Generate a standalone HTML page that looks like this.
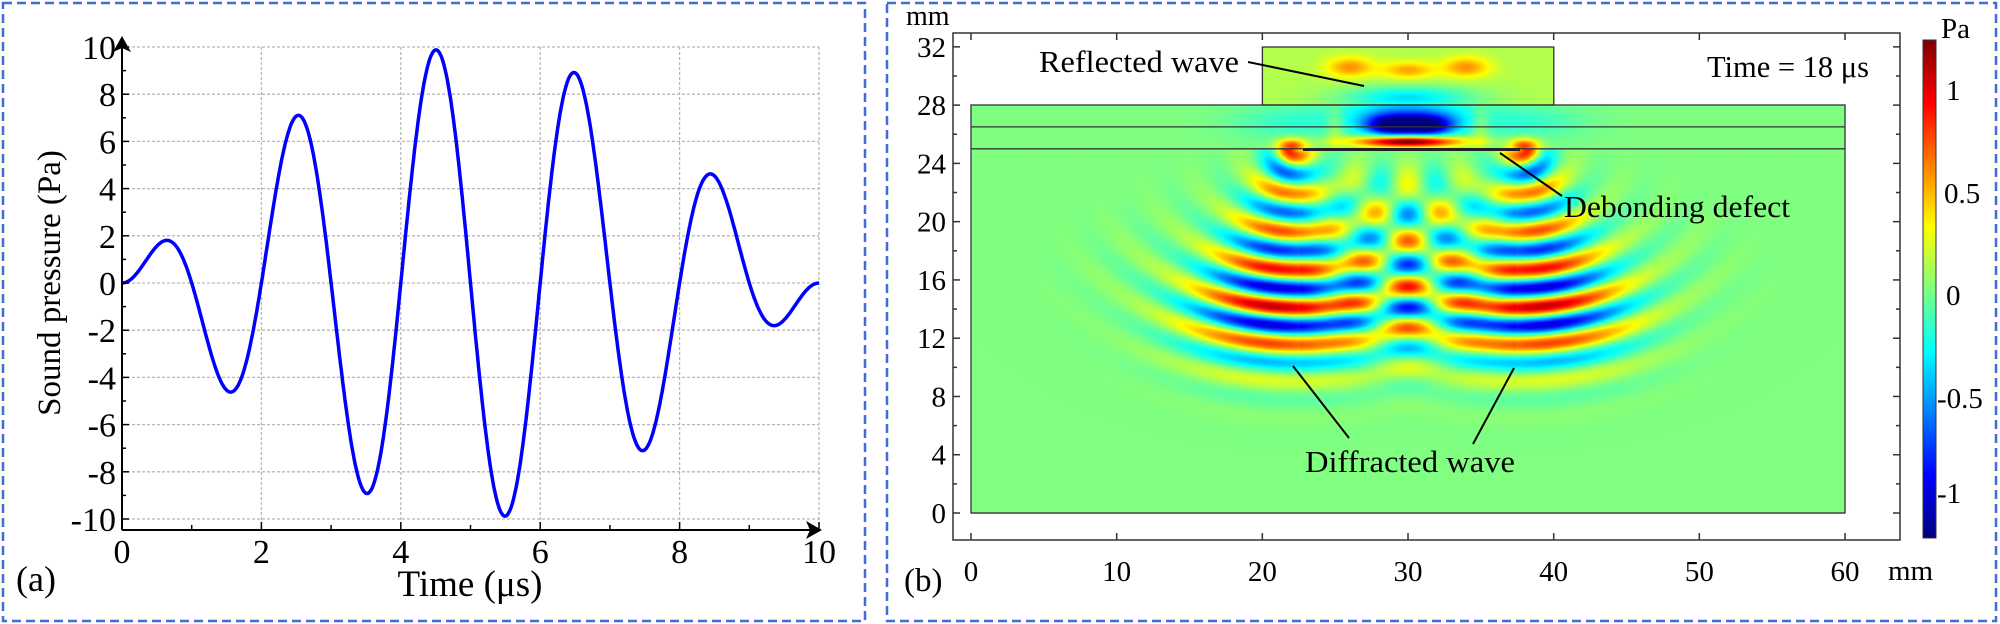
<!DOCTYPE html>
<html><head><meta charset="utf-8">
<style>
html,body{margin:0;padding:0;background:#fff;}
#wrap{position:relative;width:2000px;height:624px;overflow:hidden;background:#fff;}
svg{position:absolute;left:0;top:0;}
canvas{position:absolute;}
</style></head>
<body><div id="wrap">
<canvas id="fld" width="874" height="467" style="left:971px;top:47px;"></canvas>
<canvas id="cb" width="13" height="498" style="left:1923px;top:40px;"></canvas>
<svg id="s" width="2000" height="624" xmlns="http://www.w3.org/2000/svg" font-family="Liberation Serif, serif">
<rect x="3" y="3" width="862" height="618" fill="none" stroke="#3f6fd6" stroke-width="2.5" stroke-dasharray="9,5"/>
<rect x="887" y="3" width="1109" height="618" fill="none" stroke="#3f6fd6" stroke-width="2.5" stroke-dasharray="9,5"/>
<g id="grid" stroke="#b8b8b8" stroke-width="1.3" stroke-dasharray="3,2"></g>
<polyline id="wave" fill="none" stroke="#0000ff" stroke-width="3.5" stroke-linejoin="round"/>
<g stroke="#000" stroke-width="2">
<line x1="122" y1="530" x2="812" y2="530"/>
<line x1="122" y1="530" x2="122" y2="46"/>
</g>
<polygon points="822,530 806,521 810,530 806,539" fill="#000"/>
<polygon points="122,36 113,52 122,48 131,52" fill="#000"/>
<g id="lticks" stroke="#000" stroke-width="1.5"></g>
<g id="ltl" font-size="34" fill="#000"></g>
<text x="470" y="596" font-size="37" text-anchor="middle">Time (μs)</text>
<text x="16" y="591" font-size="36">(a)</text>
<text transform="translate(60,283) rotate(-90)" font-size="33" text-anchor="middle">Sound pressure (Pa)</text>

<rect x="953" y="33" width="947" height="507" fill="none" stroke="#333" stroke-width="1.5"/>
<g id="rticks" stroke="#333" stroke-width="1.5"></g>
<g id="rtl" font-size="29" fill="#000"></g>
<g fill="none" stroke="#333" stroke-width="1.3">
<rect x="971" y="105" width="874" height="408"/>
<rect x="1262.4" y="47" width="291.4" height="58"/>
<line x1="971" y1="126.9" x2="1845" y2="126.9"/>
<line x1="971" y1="148.8" x2="1845" y2="148.8"/>
</g>
<line x1="1303" y1="149.5" x2="1520" y2="149.5" stroke="#222" stroke-width="3"/>
<g stroke="#000" stroke-width="2">
<line x1="1248" y1="62" x2="1364" y2="86"/>
<line x1="1500" y1="153" x2="1562" y2="196"/>
<line x1="1293" y1="366" x2="1349" y2="438"/>
<line x1="1514" y1="368" x2="1473" y2="444"/>
</g>
<g font-size="31" fill="#000">
<text x="1039" y="72" textLength="200" lengthAdjust="spacingAndGlyphs">Reflected wave</text>
<text x="1707" y="77" textLength="162" lengthAdjust="spacingAndGlyphs">Time = 18 μs</text>
<text x="1564" y="217" textLength="226" lengthAdjust="spacingAndGlyphs">Debonding defect</text>
<text x="1305" y="472" textLength="210" lengthAdjust="spacingAndGlyphs">Diffracted wave</text>
<text x="906" y="25" font-size="28">mm</text>
<text x="1888" y="580" font-size="29">mm</text>
<text x="904" y="591" font-size="33">(b)</text>
<text x="1941" y="38" font-size="29">Pa</text>
<text x="1946" y="100" font-size="29">1</text>
<text x="1944" y="203" font-size="29">0.5</text>
<text x="1946" y="305" font-size="29">0</text>
<text x="1937" y="408" font-size="29">-0.5</text>
<text x="1937" y="503" font-size="29">-1</text>
</g>
<rect x="1923" y="40" width="13" height="498" fill="none" stroke="#333" stroke-width="1"/>
</svg>
</div>
<script>
var NS="http://www.w3.org/2000/svg";
function el(p,t,a,txt){var e=document.createElementNS(NS,t);for(var k in a)e.setAttribute(k,a[k]);if(txt!==undefined)e.textContent=txt;document.getElementById(p).appendChild(e);return e;}
var X0=122,XS=69.7,Y0=283,YS=23.6;
for(var t=2;t<=10;t+=2)el('grid','line',{x1:X0+t*XS,y1:47,x2:X0+t*XS,y2:530});
for(var v=-10;v<=10;v+=2)el('grid','line',{x1:122,y1:Y0-v*YS,x2:819,y2:Y0-v*YS});
for(var t=0;t<=10;t++)el('lticks','line',{x1:X0+t*XS,y1:530,x2:X0+t*XS,y2:t%2?525:522});
for(var v=-10;v<=10;v+=1)el('lticks','line',{x1:122,y1:Y0-v*YS,x2:v%2?126:129,y2:Y0-v*YS});
for(var t=0;t<=10;t+=2)el('ltl','text',{x:X0+t*XS,y:563,'text-anchor':'middle'},String(t));
for(var v=-10;v<=10;v+=2)el('ltl','text',{x:116,y:Y0-v*YS+12,'text-anchor':'end'},String(v));
var pts=[];for(var i=0;i<=600;i++){var t=i/60;var p=10*Math.sin(Math.PI*t/10)*Math.sin(Math.PI*t);pts.push((X0+t*XS).toFixed(1)+","+(Y0-p*YS).toFixed(1));}
document.getElementById('wave').setAttribute('points',pts.join(' '));
var MX=971,MY=513,S=14.567;
for(var m=0;m<=60;m+=10){el('rticks','line',{x1:MX+m*S,y1:540,x2:MX+m*S,y2:533});el('rticks','line',{x1:MX+m*S,y1:33,x2:MX+m*S,y2:40});el('rtl','text',{x:MX+m*S,y:581,'text-anchor':'middle'},String(m));}
for(var m=-2;m<=34;m+=2){var y=MY-m*S;if(y<34||y>539)continue;el('rticks','line',{x1:953,y1:y,x2:m%4?957:960,y2:y});el('rticks','line',{x1:1900,y1:y,x2:m%4?1896:1893,y2:y});}
for(var m=0;m<=32;m+=4)el('rtl','text',{x:946,y:MY-m*S+10,'text-anchor':'end'},String(m));
function jet(v){var t=(v+1.22)/2.44;t=Math.max(0,Math.min(1,t));function c(x){return Math.max(0,Math.min(1,x));}return [255*c(1.5-Math.abs(4*t-3)),255*c(1.5-Math.abs(4*t-2)),255*c(1.5-Math.abs(4*t-1))];}
var cb=document.getElementById('cb').getContext('2d');
for(var y=0;y<498;y++){var v=1.22-2.44*y/497;var c=jet(v);cb.fillStyle='rgb('+(c[0]|0)+','+(c[1]|0)+','+(c[2]|0)+')';cb.fillRect(0,y,13,1);}
function g2(x,y,cx,cy,sx,sy){var a=(x-cx)/sx,b=(y-cy)/sy;return Math.exp(-(a*a+b*b));}
function src(x,y,sx,sy,dir){
 var dy=sy-y;if(dy<0)return 0;
 var dx=(x-sx)*dir; // positive = inward
 var r=Math.sqrt((dx/1.35)*(dx/1.35)+dy*dy);if(r>21)return 0;
 var cx=-0.8-0.1*dy; var w=1.3+0.36*dy; var u=(dx-cx)/w;
 var G=0.8*Math.exp(-u*u)+0.16*Math.exp(-u*u/6.5);
 if(dx>0)G+=0.3*Math.exp(-Math.pow((dx-7)/5,2))*Math.min(1,dy/4);
 var e;if(r<11.5){var a=(r-11.5)/5.5;e=0.55+0.55*Math.exp(-a*a);}else{var a=(r-11.5)/3.8;e=1.1*Math.exp(-a*a);}
 e+=0.5*Math.exp(-r/1.5);
 return G*e*Math.cos(2*Math.PI*(r-0.7)/2.6);}
function field(x,y){
 var v=0;
 if(y<=25){v=src(x,y,22.6,25.2,1)+src(x,y,37.4,25.2,-1);}
 else if(y<=28){
  v+=-1.0*g2(x,y,28.8,26.6,1.7,0.7)-1.0*g2(x,y,31.4,26.6,1.7,0.7)-0.55*g2(x,y,30,27.3,4.2,1.3);
  v+=1.0*g2(x,y,30,25.5,3.2,0.35)+0.4*g2(x,y,30,25.5,4.5,0.4);
  v+=0.8*g2(x,y,22,25.2,1.0,0.5)+0.8*g2(x,y,38,25.2,1.0,0.5);
  v+=-0.18*g2(x,y,22,26.8,4,1.2)-0.18*g2(x,y,38,26.8,4,1.2);
  v+=0.2*g2(x,y,25,26.5,0.6,1.5)+0.2*g2(x,y,35,26.5,0.6,1.5);
 } else {
  v=0.12;
  v+=-0.5*g2(x,y,30,28.5,4.5,0.8);
  v+=0.45*g2(x,y,26,30.6,1.6,0.7)+0.4*g2(x,y,30,30.4,1.8,0.6)+0.45*g2(x,y,34,30.6,1.6,0.7);
 }
 return v;}
var cv=document.getElementById('fld'),ctx=cv.getContext('2d');var W=cv.width,H=cv.height;var img=ctx.createImageData(W,H);var d=img.data;
for(var py=0;py<H;py++){var ym=(MY-(47+py+0.5))/S;for(var px=0;px<W;px++){var xm=(px+0.5)/S;var i=(py*W+px)*4;
 if((ym>28&&(xm<20||xm>40))||ym>32.1){d[i]=255;d[i+1]=255;d[i+2]=255;d[i+3]=255;continue;}
 var c=jet(field(xm,ym));d[i]=c[0];d[i+1]=c[1];d[i+2]=c[2];d[i+3]=255;}}
ctx.putImageData(img,0,0);
</script>
</body></html>
